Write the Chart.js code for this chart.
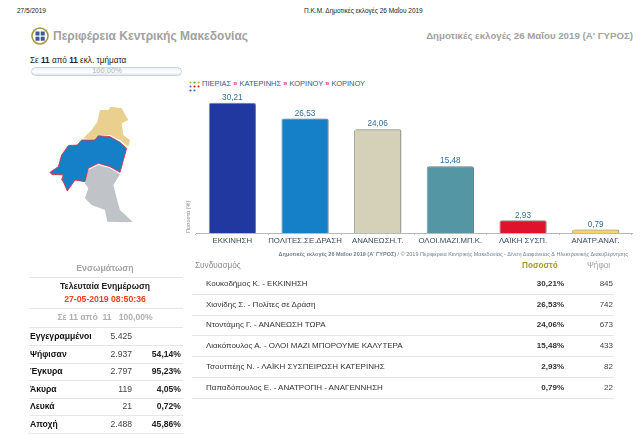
<!DOCTYPE html>
<html lang="el">
<head>
<meta charset="utf-8">
<title>Δημοτικές εκλογές 26 Μαΐου 2019</title>
<script src="https://cdn.jsdelivr.net/npm/chart.js@4"></script>
<style>
  html, body { margin: 0; padding: 0; background: #fff; }
  body { position: relative; width: 640px; height: 434px; overflow: hidden; font-family: "Liberation Sans", Arial, sans-serif; color: #222; }
  .t { position: absolute; white-space: nowrap; line-height: 1; }
  .r { transform: translateX(-100%); }
  .c { transform: translateX(-50%); }
  .line { position: absolute; height: 1px; background: #e6e6e6; }
  #chart { position: absolute; left: 185px; top: 88px; }
  #map { position: absolute; left: 20px; top: 85px; }
  #logo { position: absolute; left: 31px; top: 27px; }
  #dots { position: absolute; left: 189px; top: 81px; }
  .bar { position: absolute; left: 31px; top: 67px; width: 149px; height: 7px; border: 1px solid #c9d2df; border-radius: 5px; background: linear-gradient(#eef1f5, #fff 60%, #dfe5ee); }
  .crumb { color: #35607f; font-size: 7.5px; }
  .crumb b { color: #e2434f; font-size: 7.5px; }
</style>
</head>
<body>
<div class="t" style="left:17px;top:8px;font-size:6.5px">27/5/2019</div>
<div class="t" style="left:304px;top:8px;font-size:6.5px">Π.Κ.Μ. Δημοτικές εκλογές 26 Μαΐου 2019</div>

<svg id="logo" width="18" height="18" viewBox="0 0 18 18">
  <circle cx="9" cy="9" r="8" fill="#fff" stroke="#a89a3c" stroke-width="1.6"/>
  <rect x="4.5" y="4.5" width="4" height="4" fill="#3d5a94"/>
  <rect x="9.7" y="4.5" width="4" height="4" fill="#3d5a94"/>
  <rect x="4.5" y="9.7" width="4" height="4" fill="#3d5a94"/>
  <rect x="9.7" y="9.7" width="4" height="4" fill="#3d5a94"/>
</svg>
<div class="t" style="left:53px;top:30px;font-size:12px;font-weight:bold;color:#a2a2a2">Περιφέρεια Κεντρικής Μακεδονίας</div>
<div class="t r" style="left:633px;top:31px;font-size:9.7px;font-weight:bold;color:#a2a2a2">Δημοτικές εκλογές 26 Μαΐου 2019 (Α' ΓΥΡΟΣ)</div>

<div class="t" style="left:30px;top:57px;font-size:8.2px">Σε <b>11</b> από <b>11</b> εκλ. τμήματα</div>
<div class="bar"></div>
<div class="t c" style="left:107px;top:67px;font-size:7.5px;color:#b5b5b5">100,00%</div>

<svg id="map" width="130" height="150" viewBox="0 0 390 450">
  <polygon fill="#ead08f" points="240,75 265,75 272,65 305,70 325,105 305,115 310,150 330,165 325,185 300,165 270,150 235,150 230,165 190,160 215,135 232,110"/>
  <polygon fill="#c0c4c8" points="205,255 235,240 270,250 300,268 280,300 290,340 300,375 338,410 320,412 262,410 255,375 215,360 195,340 205,310 195,295"/>
  <polygon fill="#1580c8" stroke="#ee2238" stroke-width="2.5" points="90,262 115,245 125,210 145,182 172,180 185,165 225,165 235,152 270,155 300,172 320,190 300,262 270,245 235,235 205,250 195,290 165,285 142,318 130,290 125,285 130,270 95,268"/>
</svg>

<svg id="dots" width="11" height="11" viewBox="0 0 11 11">
  <circle cx="1.5" cy="1.5" r="1.1" fill="#e8a020"/><circle cx="5.5" cy="1.5" r="1.1" fill="#58a838"/><circle cx="9.5" cy="1.5" r="1.1" fill="#e8a020"/>
  <circle cx="1.5" cy="5.5" r="1.1" fill="#2a7fd0"/><circle cx="5.5" cy="5.5" r="1.1" fill="#d02030"/><circle cx="9.5" cy="5.5" r="1.1" fill="#d02030"/>
  <circle cx="1.5" cy="9.5" r="1.1" fill="#6a3fb0"/><circle cx="5.5" cy="9.5" r="1.1" fill="#2a7fd0"/>
</svg>
<div class="t crumb" style="left:202px;top:80px">ΠΙΕΡΙΑΣ <b>»</b> ΚΑΤΕΡΙΝΗΣ <b>»</b> ΚΟΡΙΝΟΥ <b>»</b> ΚΟΡΙΝΟΥ</div>

<canvas id="chart" width="455" height="165"></canvas>
<div class="t r" style="left:628px;top:252px;font-size:5.5px;color:#6f7f8f"><b>Δημοτικές εκλογές 26 Μαΐου 2019 (Α' ΓΥΡΟΣ)</b> / © 2019 Περιφέρεια Κεντρικής Μακεδονίας - Δ/νση Διαφάνειας &amp; Ηλεκτρονικής Διακυβέρνησης</div>

<div id="leftTable"></div>
<div id="rightTable"></div>

<script>
const categories = ["ΕΚΚΙΝΗΣΗ", "ΠΟΛΙΤΕΣ.ΣΕ.ΔΡΑΣΗ", "ΑΝΑΝΕΩΣΗ.Τ.", "ΟΛΟΙ.ΜΑΖΙ.ΜΠ.Κ.", "ΛΑΪΚΗ ΣΥΣΠ.", "ΑΝΑΤΡ.ΑΝΑΓ."];
const percents = [30.21, 26.53, 24.06, 15.48, 2.93, 0.79];
const barColors = ["#20389f", "#1580c8", "#d5d0b8", "#5596a5", "#e0132d", "#f5d55f"];
const edgeColors = ["#8a94b8", "#6fa5c8", "#a5a393", "#7f9aa5", "#a8a0a0", "#b8b090"];

const candidates = [
  "Κουκοδήμος Κ. - ΕΚΚΙΝΗΣΗ",
  "Χιονίδης Σ. - Πολίτες σε Δράση",
  "Ντοντάμης Γ. - ΑΝΑΝΕΩΣΗ ΤΩΡΑ",
  "Λιακόπουλος Α. - ΟΛΟΙ ΜΑΖΙ ΜΠΟΡΟΥΜΕ ΚΑΛΥΤΕΡΑ",
  "Τσουτπέης Ν. - ΛΑΪΚΗ ΣΥΣΠΕΙΡΩΣΗ ΚΑΤΕΡΙΝΗΣ",
  "Παπαδόπουλος Ε. - ΑΝΑΤΡΟΠΗ - ΑΝΑΓΕΝΝΗΣΗ"
];
const votes = [845, 742, 673, 433, 82, 22];

const statLabels = ["Εγγεγραμμένοι", "Ψήφισαν", "Έγκυρα", "Άκυρα", "Λευκά", "Αποχή"];
const statValues = ["5.425", "2.937", "2.797", "119", "21", "2.488"];
const statPercents = ["", "54,14%", "95,23%", "4,05%", "0,72%", "45,86%"];

const comma = v => v.toFixed(2).replace(".", ",");

const addText = (parent, text, left, top, size, cls = "", style = "") => {
  const div = document.createElement("div");
  div.className = "t " + cls;
  div.style.cssText = `left:${left}px;top:${top}px;font-size:${size}px;${style}`;
  div.textContent = text;
  parent.appendChild(div);
};
const addLine = (parent, left, top, width) => {
  const div = document.createElement("div");
  div.className = "line";
  div.style.cssText = `left:${left}px;top:${top}px;width:${width}px`;
  parent.appendChild(div);
};

// left panel
const leftTable = document.getElementById("leftTable");
addText(leftTable, "Ενσωμάτωση", 105, 264, 8.8, "c", "color:#a5a5a5;font-weight:bold");
addLine(leftTable, 29, 277, 154);
addText(leftTable, "Τελευταία Ενημέρωση", 105, 282, 8.6, "c", "font-weight:bold");
addText(leftTable, "27-05-2019 08:50:36", 105, 295, 8.7, "c", "font-weight:bold;color:#e8431f");
addLine(leftTable, 29, 308, 154);
addText(leftTable, "Σε 11 από  11   100,00%", 105, 313, 8.6, "c", "color:#b0b0b0;font-weight:bold;white-space:pre");
addLine(leftTable, 29, 327, 154);
statLabels.forEach((label, i) => {
  const y = 332 + i * 17.6;
  addText(leftTable, label, 30, y, 8.6, "", "font-weight:bold;color:#111");
  addText(leftTable, statValues[i], 132, y, 8.6, "r", "color:#444");
  if (statPercents[i]) addText(leftTable, statPercents[i], 181, y, 8.6, "r", "font-weight:bold;color:#222");
  addLine(leftTable, 29, Math.round(y + 13), 154);
});

// results table
const rightTable = document.getElementById("rightTable");
addText(rightTable, "Συνδυασμός", 195, 262, 8.2, "", "color:#8a8a8a");
addText(rightTable, "Ποσοστό", 522, 262, 8.2, "", "color:#a8982e;font-weight:bold");
addText(rightTable, "Ψήφοι", 587, 262, 8.2, "", "color:#a0a0a0");
candidates.forEach((name, i) => {
  const y = 280 + i * 20.7;
  addText(rightTable, name, 206, y, 8, "", "color:#333");
  addText(rightTable, comma(percents[i]) + "%", 564, y, 8, "r", "font-weight:bold;color:#333");
  addText(rightTable, votes[i], 613, y, 8, "r", "color:#444");
  addLine(rightTable, 192, Math.round(y + 14), 422);
});

// value above each bar + soft shadow behind the bars
const barExtras = {
  id: "barExtras",
  beforeDatasetsDraw(chart) {
    const { ctx } = chart;
    ctx.save();
    ctx.shadowColor = "rgba(0,0,0,0.28)";
    ctx.shadowBlur = 2;
    ctx.shadowOffsetX = 1.5;
    ctx.shadowOffsetY = 0;
  },
  afterDatasetsDraw(chart) {
    const { ctx } = chart;
    ctx.restore();
    ctx.save();
    ctx.font = '8.2px "Liberation Sans", Arial, sans-serif';
    ctx.fillStyle = "#2f6f9f";
    ctx.textAlign = "center";
    ctx.textBaseline = "bottom";
    chart.getDatasetMeta(0).data.forEach((bar, i) => {
      ctx.fillText(comma(percents[i]), bar.x, bar.y - 1);
    });
    ctx.restore();
  }
};

new Chart(document.getElementById("chart"), {
  type: "bar",
  data: {
    labels: categories,
    datasets: [{
      data: percents,
      backgroundColor: barColors,
      borderColor: edgeColors,
      borderWidth: 1,
      borderRadius: 2,
      borderSkipped: "bottom",
      categoryPercentage: 1,
      barPercentage: 0.65
    }]
  },
  options: {
    responsive: false,
    animation: false,
    layout: { padding: { left: 0, right: 8, top: 7, bottom: 0 } },
    plugins: { legend: { display: false }, tooltip: { enabled: false } },
    scales: {
      x: {
        grid: { drawOnChartArea: false, color: "#b8b8b8", tickLength: 2 },
        border: { color: "#b8b8b8" },
        ticks: { color: "#3a4a5a", font: { size: 7.8, family: '"Liberation Sans", Arial, sans-serif' }, padding: 1, maxRotation: 0, autoSkip: false },
        afterFit: scale => { scale.height = 20; }
      },
      y: {
        min: 0,
        max: 32,
        grid: { display: false },
        border: { display: false },
        ticks: { display: false },
        title: { display: true, text: "Ποσοστά (%)", align: "start", color: "#8a8a8a", font: { size: 5.5, family: '"Liberation Sans", Arial, sans-serif' }, padding: 0 },
        afterFit: scale => { scale.width = 11; }
      }
    }
  },
  plugins: [barExtras]
});
</script>
</body>
</html>
